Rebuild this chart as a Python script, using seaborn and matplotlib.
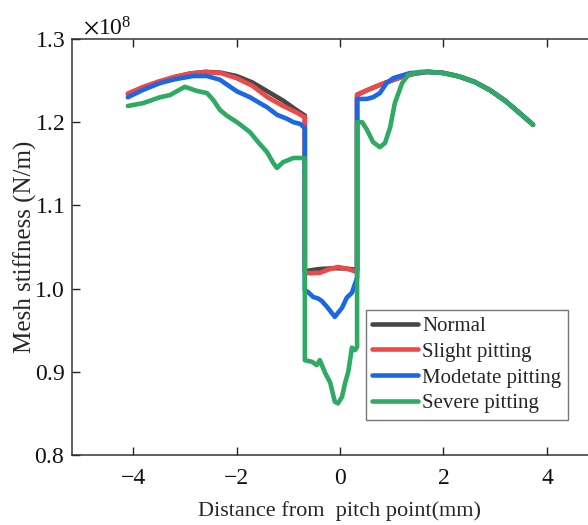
import numpy as np
import pandas as pd
import matplotlib
matplotlib.use("Agg")
import matplotlib.pyplot as plt
from matplotlib.ticker import ScalarFormatter, MultipleLocator
import seaborn as sns

# Mesh stiffness along the line of action (values in units of 1e8 N/m)
arc_x = [2.0, 2.3, 2.6, 2.9, 3.2, 3.5, 3.73]
arc_y = [1.2592, 1.255, 1.2485, 1.2385, 1.2255, 1.2095, 1.197]

normal_x = [-4.1, -3.8, -3.5, -3.2, -2.9, -2.6, -2.3, -2.0, -1.7, -1.4, -1.1, -0.85, -0.68,
            -0.68, -0.4, -0.1, 0.1, 0.33,
            0.33, 0.6, 0.9, 1.2, 1.45, 1.7] + arc_x
normal_y = [1.234, 1.242, 1.2485, 1.254, 1.2585, 1.2605, 1.2595, 1.2555, 1.248, 1.237, 1.226, 1.215, 1.208,
            1.021, 1.0235, 1.0245, 1.0242, 1.0225,
            1.233, 1.2405, 1.248, 1.2545, 1.2585, 1.2605] + arc_y

slight_x = [-4.1, -3.8, -3.5, -3.2, -2.9, -2.6, -2.3, -2.0, -1.7, -1.4, -1.1, -0.85, -0.68,
            -0.68, -0.55, -0.39, -0.19, -0.04, 0.13, 0.33,
            0.33, 0.6, 0.9, 1.2, 1.45, 1.7] + arc_x
slight_y = [1.2345, 1.2425, 1.249, 1.2545, 1.2585, 1.2603, 1.259, 1.253, 1.244, 1.230, 1.2195, 1.212, 1.206,
            1.019, 1.0185, 1.019, 1.0236, 1.026, 1.024, 1.020,
            1.233, 1.2405, 1.248, 1.2545, 1.2585, 1.2605] + arc_y

moderate_x = [-4.1, -3.8, -3.48, -3.2, -2.84, -2.57, -2.32, -2.18, -1.99, -1.74, -1.55, -1.41, -1.22,
              -1.02, -0.9, -0.77, -0.68,
              -0.68, -0.62, -0.52, -0.42, -0.35, -0.25, -0.1, 0.04, 0.13, 0.23, 0.33,
              0.33, 0.52, 0.64, 0.77, 0.9, 1.03, 1.35, 1.7] + arc_x
moderate_y = [1.230, 1.239, 1.247, 1.2515, 1.2555, 1.2555, 1.251, 1.245, 1.237, 1.230, 1.223, 1.218, 1.209,
              1.204, 1.200, 1.198, 1.193,
              0.998, 0.996, 0.990, 0.988, 0.985, 0.978, 0.966, 0.977, 0.989, 0.995, 1.013,
              1.228, 1.228, 1.230, 1.235, 1.247, 1.253, 1.259, 1.2605] + arc_y

severe_x = [-4.1, -3.8, -3.48, -3.29, -3.0, -2.76, -2.57, -2.45, -2.32, -2.18, -1.99, -1.87, -1.74,
            -1.58, -1.41, -1.29, -1.22, -1.1, -0.9, -0.68,
            -0.68, -0.54, -0.45, -0.39, -0.29, -0.19, -0.1, -0.04, 0.04, 0.1, 0.16, 0.23, 0.29, 0.33,
            0.33, 0.43, 0.52, 0.64, 0.77, 0.87, 0.97, 1.06, 1.2, 1.32, 1.55, 1.7] + arc_x
severe_y = [1.2195, 1.223, 1.230, 1.2325, 1.2425, 1.2375, 1.235, 1.2267, 1.2147, 1.2075, 1.200, 1.1943, 1.188,
            1.176, 1.164, 1.151, 1.145, 1.152, 1.157, 1.157,
            0.914, 0.912, 0.908, 0.914, 0.899, 0.887, 0.864, 0.862, 0.870, 0.887, 0.900, 0.929, 0.926, 0.930,
            1.200, 1.200, 1.191, 1.176, 1.170, 1.175, 1.194, 1.223, 1.247, 1.257, 1.2605, 1.2605] + arc_y

labels = ["Normal", "Slight pitting", "Modetate pitting", "Severe pitting"]
colors = ["#474747", "#f04848", "#1b68e4", "#2eaa62"]
series = [(normal_x, normal_y), (slight_x, slight_y), (moderate_x, moderate_y), (severe_x, severe_y)]

sns.set_style("ticks")
plt.rcParams["font.family"] = ["Liberation Serif", "DejaVu Serif"]
plt.rcParams["mathtext.fontset"] = "stix"

fig = plt.figure(figsize=(5.88, 5.25), dpi=100)
ax = fig.add_axes([72 / 588, 70 / 525, 536 / 588, 416 / 525])

for (xs, ys), lab, col in zip(series, labels, colors):
    df = pd.DataFrame({"x": xs, "y": np.array(ys) * 1e8})
    sns.lineplot(data=df, x="x", y="y", sort=False, estimator=None, color=col,
                 linewidth=3.3, label=lab, ax=ax)

ax.set_xlim(-5.18, 5.18)
ax.set_ylim(0.8e8, 1.3e8)
ax.xaxis.set_major_locator(MultipleLocator(2))
ax.yaxis.set_major_locator(MultipleLocator(0.1e8))
fmt = ScalarFormatter(useMathText=True)
fmt.set_powerlimits((8, 8))
ax.yaxis.set_major_formatter(fmt)
off = ax.yaxis.get_offset_text()
off.set_fontsize(17)
off.set_x(0.02)

ax.tick_params(axis="both", direction="in", length=6, width=1, labelsize=17,
               top=True, right=True, colors="#222222", labelcolor="#111111")
ax.tick_params(axis="x", pad=9)
ax.tick_params(axis="y", pad=5)
for s in ax.spines.values():
    s.set_color("#333333")
    s.set_linewidth(1.1)

ax.set_xlabel("Distance from  pitch point(mm)", fontsize=16, labelpad=9)
ax.set_ylabel("Mesh stiffness (N/m)", fontsize=18, labelpad=-2)

ax.legend(loc="upper left", bbox_to_anchor=(366 / 588, 1 - 310 / 525), bbox_transform=fig.transFigure,
          borderaxespad=0, frameon=True, fancybox=False, edgecolor="#777777", framealpha=1,
          fontsize=15, handlelength=2.2, handletextpad=0.2, labelspacing=0.3, borderpad=0.3)

fig.savefig("out.png", dpi=100)
